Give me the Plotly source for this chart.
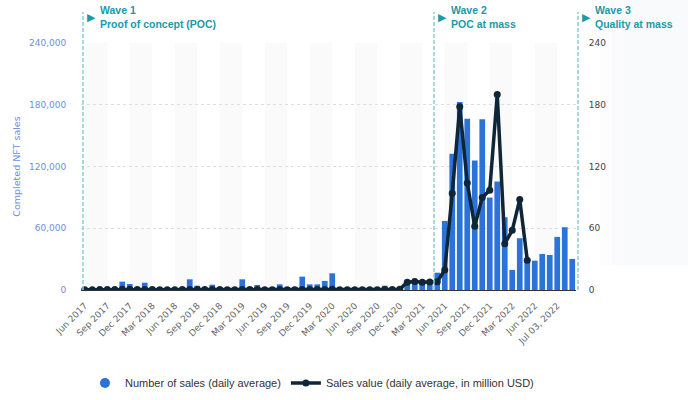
import plotly.graph_objects as go

# ---------------- data ----------------
month_names = ["Jan", "Feb", "Mar", "Apr", "May", "Jun", "Jul", "Aug", "Sep", "Oct", "Nov", "Dec"]
categories = [f"{month_names[(5 + i) % 12]} {2017 + (5 + i) // 12}" for i in range(66)]

tick_labels = ["Jun 2017", "Sep 2017", "Dec 2017", "Mar 2018", "Jun 2018", "Sep 2018",
               "Dec 2018", "Mar 2019", "Jun 2019", "Sep 2019", "Dec 2019", "Mar 2020",
               "Jun 2020", "Sep 2020", "Dec 2020", "Mar 2021", "Jun 2021", "Sep 2021",
               "Dec 2021", "Mar 2022", "Jun 2022", "Jul 03, 2022"]

sales_count = [
    1000, 1000, 1000, 1500, 2000, 8100, 5800, 2500, 7100, 2000,
    1500, 1500, 1500, 2000, 10400, 4200, 2500, 5200, 2500, 2000,
    2000, 10400, 2500, 4900, 2000, 2500, 5500, 2500, 3000, 13000,
    5500, 5500, 8800, 16200, 2000, 1500, 1500, 1500, 1500, 2000,
    4200, 2500, 3000, 6500, 6500, 6000, 7000, 16800, 67100, 132300,
    182600, 166300, 125800, 166000, 89800, 105400, 70700, 19500, 50300, 29200,
    28500, 35000, 34000, 51600, 61000, 30200,
]

sales_value = [
    0.3, 0.3, 0.4, 0.5, 0.6, 0.8, 0.7, 0.5, 0.6, 0.4,
    0.3, 0.3, 0.3, 0.4, 0.6, 0.5, 0.4, 0.5, 0.4, 0.3,
    0.3, 0.5, 0.4, 0.4, 0.3, 0.3, 0.4, 0.3, 0.3, 0.5,
    0.4, 0.4, 0.5, 0.7, 0.3, 0.2, 0.2, 0.2, 0.3, 0.3,
    0.4, 0.5, 0.8, 7.5, 8.2, 7.6, 7.8, 8.1, 19.5, 94,
    178, 104, 62, 90, 97, 190, 45, 58, 88, 29,
]

waves = [("Wave 1", "Proof of concept (POC)"),
         ("Wave 2", "POC at mass"),
         ("Wave 3", "Quality at mass")]

# ---------------- style ----------------
BAR_BLUE = "#2b72d9"
LINE_NAVY = "#0f2538"
TEAL = "#1a9aaa"
DASH_TEAL = "#86cfd8"
AXIS_BLUE = "#6d8fe0"

L, R, T, B = 81, 124, 43, 110
W, H = 700, 400
PW, PH = W - L - R, H - T - B


def px_x(px):
    return (px - L) / PW


def px_y(py):
    return (H - B - py) / PH


fig = go.Figure()

fig.add_trace(go.Bar(
    x=categories, y=sales_count, marker_color=BAR_BLUE, marker_line_width=0,
    name="Number of sales (daily average)", showlegend=False, yaxis="y",
))
# legend proxy with circular symbol
fig.add_trace(go.Scatter(
    x=[None], y=[None], mode="markers", marker=dict(color=BAR_BLUE, size=10, symbol="circle"),
    name="Number of sales (daily average)",
))
fig.add_trace(go.Scatter(
    x=categories[:len(sales_value)], y=sales_value, mode="lines+markers",
    line=dict(color=LINE_NAVY, width=3.5), marker=dict(color=LINE_NAVY, size=7),
    name="Sales value (daily average, in million USD)", yaxis="y2",
))

shapes = []
# faint shadow on the right side
for x0, x1, a in [(600, 612, 0.12), (612, 625, 0.22), (625, 688, 0.32)]:
    shapes.append(dict(type="rect", xref="paper", yref="paper", x0=px_x(x0), x1=px_x(x1),
                       y0=px_y(265), y1=px_y(0), fillcolor=f"rgba(236,239,244,{a})",
                       line_width=0, layer="below"))
# alternating bands
for k in range(0, 63, 6):
    shapes.append(dict(type="rect", xref="x", yref="paper", x0=k, x1=k + 3, y0=0, y1=1,
                       fillcolor="#fafafa", line_width=0, layer="below"))

wave_px = [83, 434, 578]
for wx in wave_px:
    shapes.append(dict(type="line", xref="paper", yref="paper", x0=px_x(wx), x1=px_x(wx),
                       y0=0, y1=px_y(12), line=dict(color=DASH_TEAL, width=1.5, dash="4px,2px")))

annotations = []
for (title, sub), wx in zip(waves, wave_px):
    annotations.append(dict(xref="paper", yref="paper", x=px_x(wx + 8), y=px_y(17.5),
                            text="▶", showarrow=False, xanchor="center", yanchor="middle",
                            font=dict(family="DejaVu Sans", size=11, color=TEAL)))
    annotations.append(dict(xref="paper", yref="paper", x=px_x(wx + 15), y=px_y(17.5),
                            text=f"<b>{title}</b><br><b>{sub}</b>", showarrow=False,
                            xanchor="left", yanchor="middle", align="left",
                            font=dict(family="Liberation Sans", size=10.5, color=TEAL)))

fig.update_layout(
    width=W, height=H,
    margin=dict(l=L, r=R, t=T, b=B, autoexpand=False),
    paper_bgcolor="white", plot_bgcolor="white",
    bargap=0.24,
    shapes=shapes, annotations=annotations,
    showlegend=True,
    legend=dict(orientation="h", x=px_x(312), xanchor="center", y=px_y(383), yanchor="middle",
                font=dict(family="Liberation Sans", size=11, color="#333333"),
                itemwidth=30, bgcolor="rgba(0,0,0,0)"),
    xaxis=dict(
        type="category", categoryorder="array", categoryarray=categories,
        range=[-0.5, len(categories) - 0.5],
        tickmode="array", tickvals=categories[::3], ticktext=tick_labels,
        tickangle=-45, tickfont=dict(family="DejaVu Sans", size=9, color="#666666"),
        showgrid=False, showline=True, linecolor="#333333", linewidth=1,
        ticks="outside", ticklen=6, tickcolor="rgba(0,0,0,0)",
    ),
    yaxis=dict(
        range=[0, 240000], tickvals=[0, 60000, 120000, 180000, 240000],
        tickformat=",", tickfont=dict(family="DejaVu Sans", size=9, color=AXIS_BLUE),
        showgrid=True, gridcolor="#dddddd", griddash="dot", gridwidth=1,
        zeroline=False, showline=False,
        ticks="outside", ticklen=12, tickcolor="rgba(0,0,0,0)",
        title=dict(text="Completed NFT sales", font=dict(family="DejaVu Sans", size=9.5, color=AXIS_BLUE),
                   standoff=6),
    ),
    yaxis2=dict(
        overlaying="y", side="right", range=[0, 240],
        tickvals=[0, 60, 120, 180, 240],
        tickfont=dict(family="DejaVu Sans", size=9, color="#444444"),
        showgrid=False, zeroline=False, showline=False,
        ticks="outside", ticklen=10, tickcolor="rgba(0,0,0,0)",
    ),
)

fig.write_html("out.html")
